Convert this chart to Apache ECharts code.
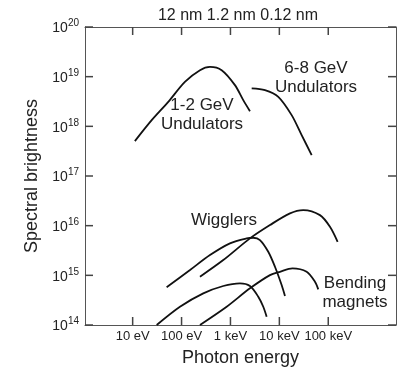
<!DOCTYPE html>
<html>
<head>
<meta charset="utf-8">
<script src="https://cdn.jsdelivr.net/npm/echarts@6/dist/echarts.min.js"></script>
<style>
  html, body { margin: 0; padding: 0; background: #fff; }
  #chart { width: 403px; height: 368px; }
</style>
</head>
<body>
<div id="chart"></div>
<script>
// photon energy (eV) and spectral brightness for each source
const und12Energy = [11.1, 24.5, 53.5, 117, 238, 381, 661, 1236, 1828, 2506];
const und12Bright = [5.04e17, 1.33e18, 3.11e18, 7.85e18, 1.35e19, 1.57e19, 1.35e19, 6.75e18, 3.37e18, 2.02e18];

const und68Energy = [2718, 5080, 9510, 17860, 28580, 45810];
const und68Bright = [5.8e18, 5.35e18, 3.92e18, 1.68e18, 6.65e17, 2.64e17];

const wigLowEnergy = [49.5, 149, 381, 977, 2143, 2924, 4010, 5930, 8130, 11140, 13030];
const wigLowBright = [5.74e14, 1.28e15, 2.56e15, 4.41e15, 5.55e15, 5.71e15, 5.13e15, 2.98e15, 1.49e15, 6.38e14, 3.83e14];

const wigHighEnergy = [238, 713, 2506, 6430, 16480, 30830, 67600, 108400, 155600];
const wigHighBright = [9.38e14, 2.03e15, 5.55e15, 1.03e16, 1.77e16, 2.06e16, 1.63e16, 9.5e15, 4.74e15];

const bendLowEnergy = [31, 92.7, 278, 713, 1563, 2506, 3707, 4690, 5500];
const bendLowBright = [1.0e14, 2.33e14, 4.34e14, 6.1e14, 6.9e14, 6.1e14, 3.71e14, 2.33e14, 1.47e14];

const bendHighEnergy = [238, 836, 2506, 6430, 10280, 18500, 36140, 53460, 62520];
const bendHighBright = [1.0e14, 2.33e14, 5.47e14, 1.01e15, 1.18e15, 1.38e15, 1.18e15, 7.43e14, 5.22e14];

// axes are drawn in decades (log10 of the value)
const energyRange = [1.06, 2.43e6];
const brightRange = [1e14, 1e20];
const xTickDecades = [1, 2, 3, 4, 5];
const xTickLabels = ['10 eV', '100 eV', '1 keV', '10 keV', '100 keV'];
const yTickDecades = [14, 15, 16, 17, 18, 19, 20];
const wavelengthText = '12 nm 1.2 nm 0.12 nm';

const FONT = "'Liberation Sans', Arial, sans-serif";
const LINE = '#555';
const TICK = '#444';
const TEXT = '#222';

const W = 403, H = 368;
const GRID = { left: 85, right: 7, top: 27, bottom: 43 };
const TICK_LEN = 8; // px

const log = Math.log10;
const pairs = (xs, ys) => xs.map((x, i) => [log(x), log(ys[i])]);
const xMin = log(energyRange[0]), xMax = log(energyRange[1]);
const yMin = log(brightRange[0]), yMax = log(brightRange[1]);
// tick length expressed in axis units
const tickX = TICK_LEN * (xMax - xMin) / (W - GRID.left - GRID.right);
const tickY = TICK_LEN * (yMax - yMin) / (H - GRID.top - GRID.bottom);

const chart = echarts.init(document.getElementById('chart'));

const frameAxis = {
  type: 'value',
  axisLine: { show: true, lineStyle: { color: LINE, width: 1 } },
  axisTick: { show: false },
  splitLine: { show: false },
};
const xBase = { ...frameAxis, min: xMin, max: xMax };
const yBase = { ...frameAxis, min: yMin, max: yMax };

const curve = (data) => ({
  type: 'line',
  data,
  smooth: 0.3,
  symbol: 'none',
  lineStyle: { color: '#111', width: 1.8 },
  z: 3,
});

// inward ticks on all four sides, each one a short straight segment
const tickLine = (data) => ({
  type: 'line',
  data,
  symbol: 'none',
  silent: true,
  clip: false,
  lineStyle: { color: TICK, width: 1.5 },
  z: 4,
});
const tickSeries = [
  ...xTickDecades.flatMap((d) => [
    tickLine([[d, yMin], [d, yMin + tickY]]),
    tickLine([[d, yMax], [d, yMax - tickY]]),
  ]),
  ...yTickDecades.flatMap((d) => [
    tickLine([[xMin, d], [xMin + tickX, d]]),
    tickLine([[xMax, d], [xMax - tickX, d]]),
  ]),
];

chart.setOption({
  animation: false,
  textStyle: { fontFamily: FONT },
  grid: { ...GRID, outerBoundsMode: 'none', containLabel: false },
  xAxis: [
    {
      ...xBase,
      position: 'bottom',
      axisLabel: {
        customValues: xTickDecades,
        margin: 5,
        color: TEXT,
        fontSize: 13,
        fontFamily: FONT,
        formatter: (v) => xTickLabels[xTickDecades.indexOf(Math.round(v))] || '',
      },
      name: 'Photon energy',
      nameLocation: 'middle',
      nameGap: 24,
      nameTextStyle: { color: TEXT, fontSize: 18, fontFamily: FONT },
    },
    { ...xBase, position: 'top', axisLabel: { show: false } },
  ],
  yAxis: [
    {
      ...yBase,
      position: 'left',
      axisLabel: {
        customValues: yTickDecades,
        margin: 6,
        formatter: (v) => '{b|10}{s|' + Math.round(v) + '}',
        rich: {
          b: { fontSize: 14, color: TEXT, fontFamily: FONT, verticalAlign: 'bottom' },
          s: { fontSize: 10, color: TEXT, fontFamily: FONT, verticalAlign: 'bottom', padding: [0, 0, 7, 0] },
        },
      },
      name: 'Spectral brightness',
      nameLocation: 'middle',
      nameGap: 44,
      nameTextStyle: { color: TEXT, fontSize: 18, fontFamily: FONT },
    },
    { ...yBase, position: 'right', axisLabel: { show: false } },
  ],
  graphic: [
    { type: 'text', x: 238, y: 16, style: { text: wavelengthText, fill: TEXT, font: '16px ' + FONT, textAlign: 'center', textVerticalAlign: 'middle' } },
    { type: 'text', x: 202, y: 115, style: { text: '1-2 GeV\nUndulators', fill: TEXT, font: '17px ' + FONT, lineHeight: 19, textAlign: 'center', textVerticalAlign: 'middle' } },
    { type: 'text', x: 316, y: 78, style: { text: '6-8 GeV\nUndulators', fill: TEXT, font: '17px ' + FONT, lineHeight: 19, textAlign: 'center', textVerticalAlign: 'middle' } },
    { type: 'text', x: 224, y: 220, style: { text: 'Wigglers', fill: TEXT, font: '17px ' + FONT, textAlign: 'center', textVerticalAlign: 'middle' } },
    { type: 'text', x: 355, y: 293, style: { text: 'Bending\nmagnets', fill: TEXT, font: '17px ' + FONT, lineHeight: 19, textAlign: 'center', textVerticalAlign: 'middle' } },
  ],
  series: [
    curve(pairs(und12Energy, und12Bright)),
    curve(pairs(und68Energy, und68Bright)),
    curve(pairs(wigLowEnergy, wigLowBright)),
    curve(pairs(wigHighEnergy, wigHighBright)),
    curve(pairs(bendLowEnergy, bendLowBright)),
    curve(pairs(bendHighEnergy, bendHighBright)),
    ...tickSeries,
  ],
});
</script>
</body>
</html>
